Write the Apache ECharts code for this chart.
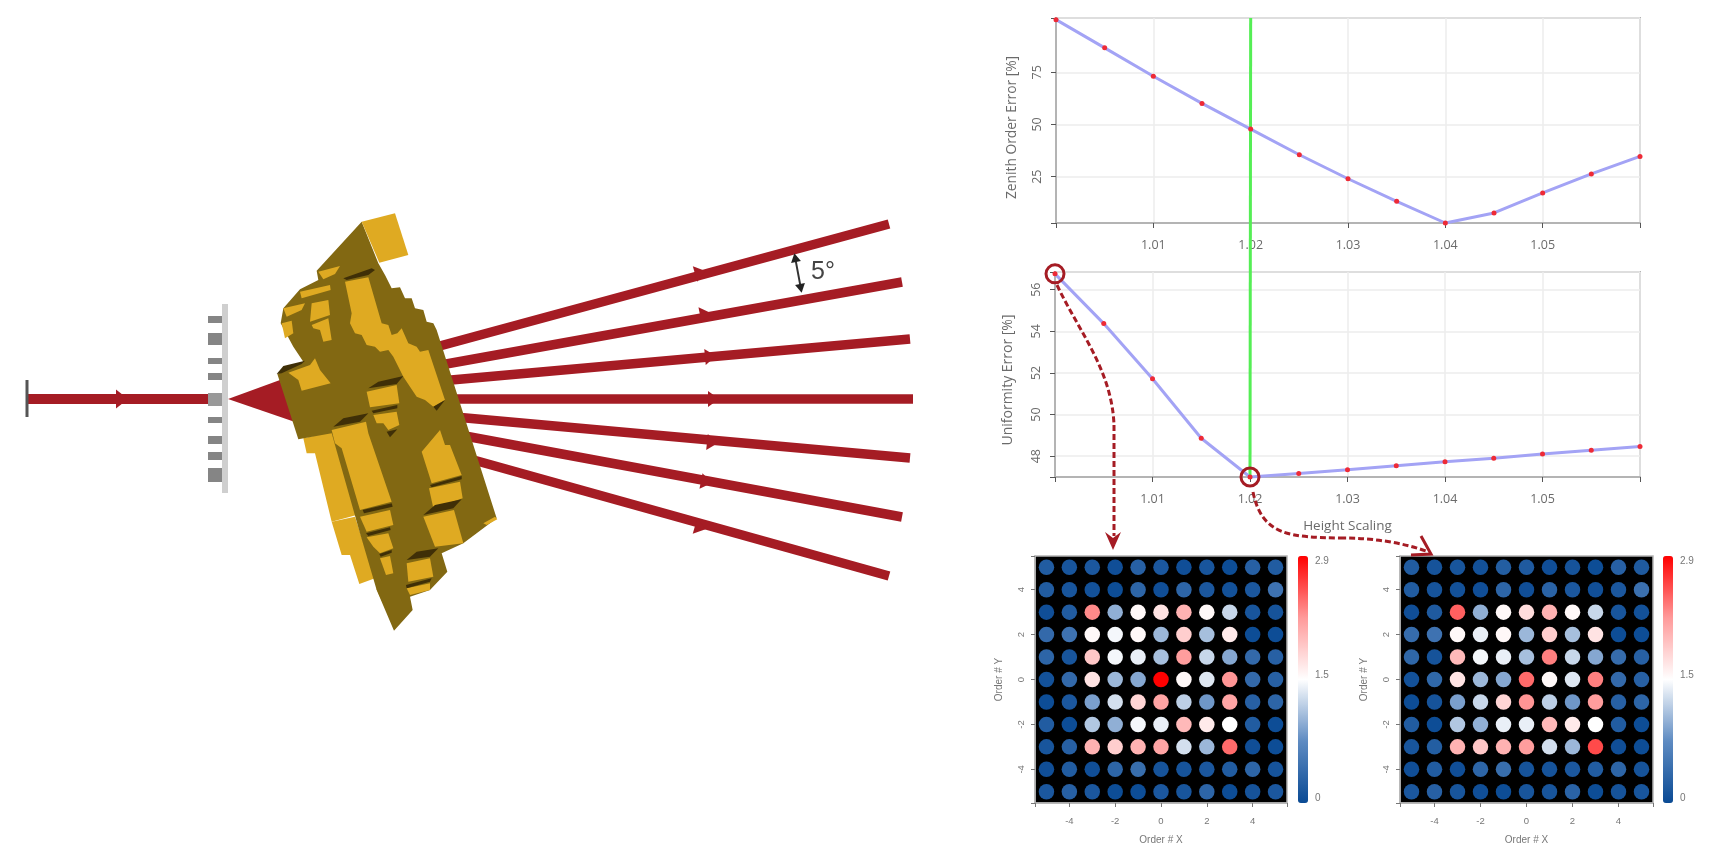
<!DOCTYPE html>
<html>
<head>
<meta charset="utf-8">
<style>html,body{margin:0;padding:0;background:#fff}#c{width:1730px;height:859px}</style>
<script src="https://cdn.jsdelivr.net/npm/echarts@6/dist/echarts.min.js"></script>
</head>
<body>
<div id="c"></div>
<script>
// ---------- data ----------
const heightScaling = [1.00,1.005,1.01,1.015,1.02,1.025,1.03,1.035,1.04,1.045,1.05,1.055,1.06];
const zenithError = [100.2,86.7,73.1,60.1,47.8,35.5,24.0,13.2,2.8,7.6,17.2,26.3,34.7];
const uniformityError = [56.76,54.37,51.72,48.86,47.0,47.17,47.35,47.54,47.73,47.9,48.1,48.29,48.46];
const selectedScaling = 1.02;
const startScaling = 1.00;
const scalingTicks = [1.00,1.01,1.02,1.03,1.04,1.05,1.06];
const scalingLabels = [1.01,1.02,1.03,1.04,1.05];
const zenithTicks = [2.8,25,50,75,101];
const zenithLabels = [25,50,75];
const uniformityTicks = [47,48,50,52,54,56,56.85];
const uniformityLabels = [48,50,52,54,56];
const orderX = [-5,-4,-3,-2,-1,0,1,2,3,4,5];
const orderY = [5,4,3,2,1,0,-1,-2,-3,-4,-5];
const orderTicks = [-5.5,-4,-2,0,2,4,5.5];
const orderLabels = [-4,-2,0,2,4];
const colorbarLabels = [0,1.5,2.9];
const mapStart = [
 [.20,.12,.15,.05,.25,.15,.05,.12,.03,.25,.20],
 [.20,.12,.08,.03,.30,.05,.30,.15,.08,.15,.45],
 [.05,.20,2.25,.95,1.5,1.65,2.0,1.5,1.2,.12,.10],
 [.35,.45,1.5,1.4,1.5,1.0,1.8,1.05,1.6,.03,.03],
 [.30,.12,1.85,1.4,1.35,1.05,2.15,1.2,.90,.35,.25],
 [.08,.35,1.65,1.0,.90,2.9,1.5,1.3,2.2,.35,.25],
 [.03,.15,.85,1.25,1.75,2.1,1.15,.80,2.1,.25,.30],
 [.20,.03,1.1,.95,1.4,1.35,1.95,1.6,1.45,.20,.03],
 [.12,.25,2.0,1.8,2.0,2.1,1.25,1.0,2.4,.05,.03],
 [.05,.20,.05,.30,.40,.10,.10,.15,.20,.30,.10],
 [.15,.25,.15,.03,.03,.15,.12,.30,.03,.10,.15]
];
const mapSelected = [
 [.20,.10,.12,.08,.22,.18,.05,.10,.03,.25,.18],
 [.20,.10,.08,.05,.30,.05,.28,.15,.06,.15,.42],
 [.05,.18,2.45,.95,1.5,1.7,2.0,1.5,1.2,.12,.08],
 [.38,.45,1.5,1.35,1.5,1.0,1.8,1.05,1.65,.03,.03],
 [.32,.10,1.95,1.4,1.35,1.05,2.3,1.2,.90,.38,.25],
 [.08,.33,1.65,1.0,.90,2.4,1.5,1.3,2.3,.35,.25],
 [.03,.10,.85,1.2,1.75,2.2,1.15,.80,2.15,.25,.30],
 [.20,.03,1.1,.95,1.35,1.35,1.95,1.6,1.45,.20,.03],
 [.12,.22,2.0,1.85,2.0,2.15,1.25,1.0,2.55,.05,.03],
 [.05,.20,.05,.30,.40,.10,.10,.15,.20,.30,.10],
 [.15,.25,.12,.05,.03,.12,.12,.28,.03,.10,.12]
];

// ---------- helpers ----------
const FONT = '"Open Sans", sans-serif';
const SMALL = '"Liberation Sans", sans-serif';
const GREY = '#6b6b6b', FRAME = '#b4b4b4', RED = '#a51c24';
const pairs = (xs, ys) => xs.map((x, i) => [x, ys[i]]);
const cells = m => m.flatMap((row, r) => row.map((v, c) => [orderX[c], orderY[r], v]));

function lineAxes(idx, ticks, labels, min, max, name, gap, fontSize, shift) {
  return {
    x: {
      type: 'value', gridIndex: idx, min: 1, max: 1.06, position: 'bottom',
      axisLine: {lineStyle: {color: FRAME, width: 2}},
      axisTick: {length: 5, lineStyle: {color: '#555'}, customValues: scalingTicks},
      axisLabel: {customValues: scalingLabels, color: GREY, fontFamily: FONT, fontSize: 12.5, margin: 16,
                  formatter: v => v.toFixed(2)},
      splitLine: {show: true, lineStyle: {color: '#ececec', width: 1.5}},
      name: idx === 1 ? 'Height Scaling' : '', nameLocation: 'middle', nameGap: 42,
      nameTextStyle: {color: GREY, fontFamily: FONT, fontSize: 13.5}
    },
    y: {
      type: 'value', gridIndex: idx, min, max, position: 'left',
      axisLine: {show: true, onZero: false, lineStyle: {color: FRAME, width: 2}},
      axisTick: {show: true, length: 5, lineStyle: {color: '#555'}, customValues: ticks},
      axisLabel: {customValues: labels, color: GREY, fontFamily: FONT, fontSize: 12.5, rotate: 90, margin: 12},
      splitLine: {show: true, lineStyle: {color: '#ececec', width: 1.5}},
      name, nameLocation: 'middle', nameRotate: 90, nameGap: gap,
      nameTextStyle: {color: GREY, fontFamily: FONT, fontSize, padding: [0, shift, 0, 0]}
    }
  };
}
function mapAxes(idx) {
  const label = {customValues: orderLabels, color: '#777', fontFamily: SMALL, fontSize: 9.5};
  const common = {
    type: 'value', gridIndex: idx, min: -5.5, max: 5.5,
    axisLine: {show: true, onZero: false, lineStyle: {color: FRAME, width: 1.5}},
    axisTick: {show: true, length: 4, lineStyle: {color: '#777'}, customValues: orderTicks},
    splitLine: {show: false}, nameLocation: 'middle',
    nameTextStyle: {color: '#777', fontFamily: SMALL, fontSize: 10}
  };
  return {
    x: {...common, position: 'bottom', name: 'Order # X', nameGap: 32, axisLabel: {...label, margin: 13}},
    y: {...common, position: 'left', name: 'Order # Y', nameGap: 31, nameRotate: 90,
        axisLabel: {...label, rotate: 90, margin: 9}}
  };
}
function colorbarAxes(idx) {
  return {
    x: {type: 'value', gridIndex: idx, show: false, min: 0, max: 1},
    y: {type: 'value', gridIndex: idx, min: 0, max: 2.9, position: 'right',
        axisLine: {show: false}, axisTick: {show: false}, splitLine: {show: false},
        axisLabel: {customValues: colorbarLabels, color: '#777', fontFamily: SMALL, fontSize: 10,
                    margin: 7, verticalAlignMaxLabel: 'top', verticalAlignMinLabel: 'bottom',
                    formatter: v => String(v)}}
  };
}
const frameGrid = {show: true, borderColor: FRAME, borderWidth: 2, backgroundColor: '#fff'};
const mapGrid = {show: true, borderColor: FRAME, borderWidth: 1.5, backgroundColor: '#000'};
const grids = [
  {...frameGrid, left: 1056, top: 18, width: 584, height: 205},
  {...frameGrid, left: 1055, top: 272, width: 585, height: 205},
  {...mapGrid, left: 1035, top: 556, width: 252, height: 247},
  {...mapGrid, left: 1400, top: 556, width: 253, height: 247},
  {left: 1298, top: 556, width: 10, height: 247},
  {left: 1663, top: 556, width: 10, height: 247}
];
const a0 = lineAxes(0, zenithTicks, zenithLabels, 2.8, 101, 'Zenith Order Error [%]', 37, 13.8, 14);
const a1 = lineAxes(1, uniformityTicks, uniformityLabels, 47, 56.85, 'Uniformity Error [%]', 40, 14, 11);
const a2 = mapAxes(2), a3 = mapAxes(3), a4 = colorbarAxes(4), a5 = colorbarAxes(5);

function lineSeries(idx, values) {
  return {
    type: 'line', xAxisIndex: idx, yAxisIndex: idx, data: pairs(heightScaling, values), clip: false,
    lineStyle: {color: '#a3a3f5', width: 3}, symbol: 'circle', symbolSize: 5,
    itemStyle: {color: '#ee2a36'}, silent: true, animation: false, z: 3
  };
}
function ringSeries(point) {
  return {
    type: 'scatter', xAxisIndex: 1, yAxisIndex: 1, data: [point], clip: false, symbol: 'circle', symbolSize: 18,
    itemStyle: {color: 'rgba(0,0,0,0)', borderColor: RED, borderWidth: 3, opacity: 1}, silent: true, animation: false, z: 4
  };
}
function mapSeries(idx, m) {
  return {
    type: 'scatter', xAxisIndex: idx, yAxisIndex: idx, data: cells(m), symbol: 'circle', symbolSize: 15.5,
    encode: {x: 0, y: 1}, silent: true, animation: false, itemStyle: {opacity: 1}
  };
}
const mapColors = ['#0a4a94', '#5e8bc2', '#ffffff', '#ff9a9a', '#ff0000'];

// ---------- illustration (drawn in a 3x drawing space, scaled down) ----------
const OLIVE = '#826812', GOLD = '#dfaa22', DARK = '#3f2f07';
const body = [[305,65],[355,190],[375,225],[395,265],[420,262],[435,295],[455,295],[465,325],[490,330],[500,365],[520,370],[530,390],[710,955],[610,1030],[545,1060],[562,1115],[510,1170],[450,1190],[458,1230],[402,1292],[350,1170],[300,1000],[215,700],[115,718],[52,522],[130,485],[100,440],[62,370],[70,325],[120,268],[175,240],[170,212]];
const backGold = [
  [[130,715],[215,695],[290,945],[215,965],[165,760],[140,760]],
  [[215,965],[285,950],[345,1135],[298,1152],[270,1065],[245,1065]],
  [[348,1165],[365,1175],[385,1245]]
];
const goldFaces = [
  [[305,65],[405,40],[445,165],[358,188]],
  [[175,215],[240,198],[225,222],[190,238]],
  [[255,245],[325,232],[365,370],[385,375],[395,405],[412,400],[425,385],[445,430],[470,440],[480,455],[505,450],[555,600],[520,620],[495,600],[470,590],[450,560],[430,530],[400,470],[385,450],[360,455],[345,440],[320,435],[305,405],[285,400],[270,370],[275,340]],
  [[120,275],[210,255],[212,270],[125,295]],
  [[70,325],[135,310],[125,330],[80,350]],
  [[155,310],[205,300],[210,345],[150,365]],
  [[65,370],[95,362],[100,400],[75,415]],
  [[155,375],[205,355],[215,420],[190,425],[180,390],[160,385]],
  [[85,518],[150,495],[165,475],[180,510],[212,550],[125,572],[115,540]],
  [[320,575],[410,555],[418,610],[330,622]],
  [[340,645],[410,635],[418,675],[385,690],[370,670],[350,670]],
  [[215,690],[318,665],[325,700],[395,905],[300,930],[245,745],[225,730]],
  [[300,950],[390,930],[400,975],[320,995]],
  [[320,1012],[385,1000],[400,1045],[360,1060],[340,1040]],
  [[360,1075],[390,1068],[400,1120],[378,1125]],
  [[485,755],[540,690],[555,735],[570,735],[605,825],[515,850]],
  [[507,865],[600,845],[608,895],[520,925]],
  [[490,950],[582,930],[610,1030],[525,1040]],
  [[670,970],[705,950],[712,958],[680,975]],
  [[440,1090],[510,1075],[520,1130],[445,1145]],
  [[440,1165],[510,1150],[510,1170],[450,1185]]
];
const darkFaces = [
  [[250,235],[335,205],[345,210],[325,225],[260,240]],
  [[50,522],[70,498],[135,482],[125,492],[65,520]],
  [[325,565],[355,545],[430,528],[410,552]],
  [[335,632],[412,615],[412,625],[340,640]],
  [[380,695],[412,688],[390,712]],
  [[220,680],[250,655],[325,640],[300,665]],
  [[308,930],[395,910],[398,920],[312,940]],
  [[318,1000],[390,982],[392,990],[325,1008]],
  [[358,1062],[395,1050],[395,1058],[362,1070]],
  [[510,855],[605,828],[605,838],[515,862]],
  [[490,945],[525,915],[605,898],[580,925]],
  [[440,1080],[470,1055],[535,1045],[510,1070]],
  [[438,1155],[515,1135],[510,1145],[440,1165]],
  [[520,620],[555,600],[530,632]]
];
const toScene = p => [260 + p[0] / 3, 200 + p[1] / 3];
const poly = (pts, fill, z = 1) => ({type: 'polygon', z, silent: true, shape: {points: pts}, style: {fill}});
const rect = (x, y, w, h, fill) => ({type: 'rect', silent: true, shape: {x, y, width: w, height: h}, style: {fill}});
const seg = (a, b, stroke, lineWidth, z = 1, extra = {}) => ({
  type: 'line', z, silent: true, shape: {x1: a[0], y1: a[1], x2: b[0], y2: b[1]}, style: {stroke, lineWidth, ...extra}
});
function headAt(p, from, len, half, fill, z = 1) {
  const dx = p[0] - from[0], dy = p[1] - from[1], d = Math.hypot(dx, dy), ux = dx / d, uy = dy / d;
  return poly([[p[0] + ux * len, p[1] + uy * len], [p[0] - uy * half, p[1] + ux * half], [p[0] + uy * half, p[1] - ux * half]], fill, z);
}
// beam: start, end, arrow location
const beams = [
  [[425,350],[889,224],[695,274]],
  [[435,366],[902,282],[700,315]],
  [[440,381],[910,339],[705,357]],
  [[450,399],[913,399],[708,399]],
  [[455,417],[910,458],[707,442]],
  [[465,436],[902,517],[701,481]],
  [[470,459],[889,576],[695,526]]
];
const teeth = [[316,7],[333,12],[358,6],[373,7],[417,6],[436,8],[452,8],[468,14]];
const dashed = {lineDash: [6, 3], lineCap: 'butt'};
const curve = (a, c1, c2, b) => ({
  type: 'bezierCurve', z: 100, silent: true,
  shape: {x1: a[0], y1: a[1], cpx1: c1[0], cpy1: c1[1], cpx2: c2[0], cpy2: c2[1], x2: b[0], y2: b[1]},
  style: {stroke: RED, lineWidth: 3, fill: 'none', ...dashed}
});
const scene = [
  ...beams.map(b => seg(b[0], b[1], RED, 9.5)),
  ...beams.map(b => headAt(b[2], b[0], 11, 8, RED)),
  seg([27,399], [208,399], RED, 10),
  seg([27,380], [27,417], '#555', 3),
  headAt([116,399], [27,399], 12, 9.5, RED),
  ...teeth.map(t => rect(208, t[0], 14, t[1], '#858585')),
  rect(208, 393, 14, 13, '#999'),
  rect(222, 304, 6, 189, '#cfcfcf'),
  poly([[228,399],[280,380],[295,422]], RED),
  ...backGold.map(p => poly(p.map(toScene), GOLD)),
  poly(body.map(toScene), OLIVE),
  ...goldFaces.map(p => poly(p.map(toScene), GOLD)),
  ...darkFaces.map(p => poly(p.map(toScene), DARK)),
  seg([795,257], [801,289], '#333', 2, 5),
  headAt([796,262], [801,289], 9, 5, '#222', 5),
  headAt([800,284], [795,257], 9, 5, '#222', 5),
  {type: 'text', z: 5, silent: true, style: {text: '5°', x: 811, y: 272, fill: '#444', font: '25px "Liberation Sans", sans-serif', verticalAlign: 'middle'}},
  curve([1057,285], [1078,330], [1112,370], [1114,425]),
  seg([1114,425], [1114,536], RED, 3, 100, dashed),
  poly([[1113,550],[1105,532],[1113,538],[1121,532]], RED, 100),
  curve([1253,492], [1262,536], [1290,537], [1340,538]),
  curve([1340,538], [1372,538], [1400,542], [1426,551]),
  {type: 'polyline', z: 100, silent: true, shape: {points: [[1421,536],[1431,554],[1411,555]]}, style: {stroke: RED, lineWidth: 3, fill: 'none'}}
];

const chart = echarts.init(document.getElementById('c'), null, {renderer: 'canvas', width: 1730, height: 859});
chart.setOption({
  animation: false,
  backgroundColor: '#fff',
  grid: grids,
  xAxis: [a0.x, a1.x, a2.x, a3.x, a4.x, a5.x],
  yAxis: [a0.y, a1.y, a2.y, a3.y, a4.y, a5.y],
  visualMap: [
    {type: 'continuous', seriesIndex: 4, dimension: 2, min: 0, max: 2.9, left: 1298, top: 556, itemWidth: 10, itemHeight: 247, padding: 0,
     calculable: false, hoverLink: false, text: null, inRange: {color: mapColors}},
    {type: 'continuous', seriesIndex: 5, dimension: 2, min: 0, max: 2.9, left: 1663, top: 556, itemWidth: 10, itemHeight: 247, padding: 0,
     calculable: false, hoverLink: false, text: null, inRange: {color: mapColors}}
  ],
  series: [
    lineSeries(0, zenithError),
    lineSeries(1, uniformityError),
    ringSeries([startScaling, uniformityError[heightScaling.indexOf(startScaling)]]),
    ringSeries([selectedScaling, uniformityError[heightScaling.indexOf(selectedScaling)]]),
    mapSeries(2, mapStart),
    mapSeries(3, mapSelected)
  ],
  graphic: scene
});
// The green marker spans both line charts at the selected scaling value.
const topPt = chart.convertToPixel({xAxisIndex: 0, yAxisIndex: 0}, [selectedScaling, 101]);
const botPt = chart.convertToPixel({xAxisIndex: 1, yAxisIndex: 1}, [selectedScaling, 47]);
chart.setOption({graphic: [...scene, seg([topPt[0], topPt[1]], [botPt[0], botPt[1]], '#55ee55', 3, 1)]});
</script>
</body>
</html>
